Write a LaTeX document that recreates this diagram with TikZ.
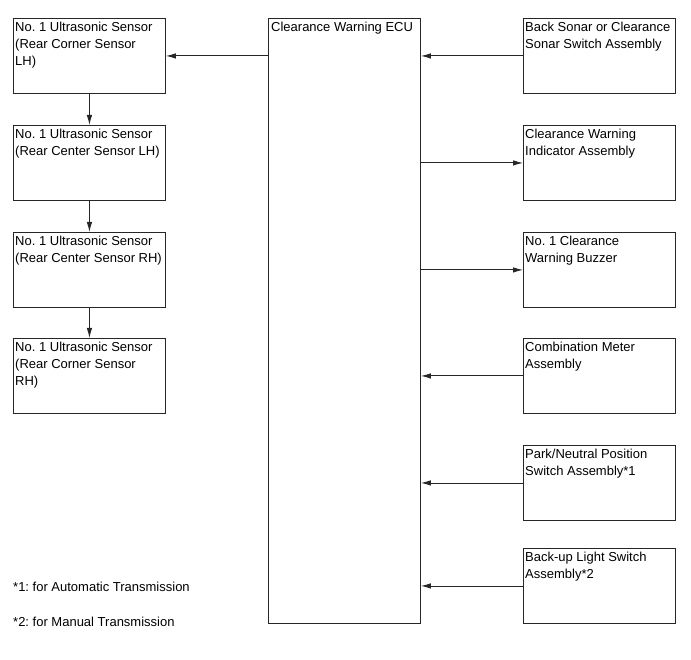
\documentclass[tikz,border=0pt]{standalone}
\usepackage{fontspec}
\setmainfont{Liberation Sans}
\usetikzlibrary{arrows.meta}
\frenchspacing

\tikzset{
  unit/.style={draw=black!85,line width=0.9pt,minimum width=152pt,minimum height=75pt,
    inner sep=0pt,anchor=north west},
  txt/.style={anchor=north west,align=left,inner sep=0pt,font=\fontsize{13}{17}\selectfont},
  arr/.style={draw=black!85,line width=0.9pt,-{Latex[length=10pt,width=5.5pt]}}
}

\begin{document}
\begin{tikzpicture}[x=1pt,y=1pt]
  % canvas 691 x 660
  \useasboundingbox (0,0) rectangle (691,-660);

  % ---- sensors (left column) ----
  \node[unit] (s1) at (13,-18) {};
  \node[unit] (s2) at (13,-125) {};
  \node[unit] (s3) at (13,-232) {};
  \node[unit] (s4) at (13,-338) {};
  \node[txt] (s1t) at ([shift={(2,-4)}]s1.north west) {No. 1 Ultrasonic Sensor\\(Rear Corner Sensor\\LH)};
  \node[txt] (s2t) at ([shift={(2,-4)}]s2.north west) {No. 1 Ultrasonic Sensor\\(Rear Center Sensor LH)};
  \node[txt] (s3t) at ([shift={(2,-4)}]s3.north west) {No. 1 Ultrasonic Sensor\\(Rear Center Sensor RH)};
  \node[txt] (s4t) at ([shift={(2,-4)}]s4.north west) {No. 1 Ultrasonic Sensor\\(Rear Corner Sensor\\RH)};

  % ---- ECU (tall box) ----
  \node[unit,minimum height=605pt] (ecu) at (268,-18) {};
  \node[txt] (ecut) at ([shift={(3,-4)}]ecu.north west) {Clearance Warning ECU};

  % ---- right column ----
  \node[unit] (r1) at (523,-18) {};
  \node[unit] (r2) at (523,-125) {};
  \node[unit] (r3) at (523,-232) {};
  \node[unit] (r4) at (523,-338) {};
  \node[unit] (r5) at (523,-445) {};
  \node[unit] (r6) at (523,-548) {};
  \node[txt] (r1t) at ([shift={(2,-4)}]r1.north west) {Back Sonar or Clearance\\Sonar Switch Assembly};
  \node[txt] (r2t) at ([shift={(2,-4)}]r2.north west) {Clearance Warning\\Indicator Assembly};
  \node[txt] (r3t) at ([shift={(2,-4)}]r3.north west) {No. 1 Clearance\\Warning Buzzer};
  \node[txt] (r4t) at ([shift={(2,-4)}]r4.north west) {Combination Meter\\Assembly};
  \node[txt] (r5t) at ([shift={(2,-4)}]r5.north west) {Park/Neutral Position\\Switch Assembly*1};
  \node[txt] (r6t) at ([shift={(2,-4)}]r6.north west) {Back-up Light Switch\\Assembly*2};

  % ---- connectors ----
  \draw[arr] (ecu.west |- s1.east) -- (s1.east);
  \draw[arr] (s1.south) -- (s2.north);
  \draw[arr] (s2.south) -- (s3.north);
  \draw[arr] (s3.south) -- (s4.north);
  \draw[arr] (r1.west) -- (ecu.east |- r1.west);
  \draw[arr] (ecu.east |- r2.west) -- (r2.west);
  \draw[arr] (ecu.east |- r3.west) -- (r3.west);
  \draw[arr] (r4.west) -- (ecu.east |- r4.west);
  \draw[arr] (r5.west) -- (ecu.east |- r5.west);
  \draw[arr] (r6.west) -- (ecu.east |- r6.west);

  % footnotes
  \node[txt,anchor=west] (fn1) at (13,-587) {*1: for Automatic Transmission};
  \node[txt,anchor=west] (fn2) at (13,-622) {*2: for Manual Transmission};
\end{tikzpicture}
\end{document}
